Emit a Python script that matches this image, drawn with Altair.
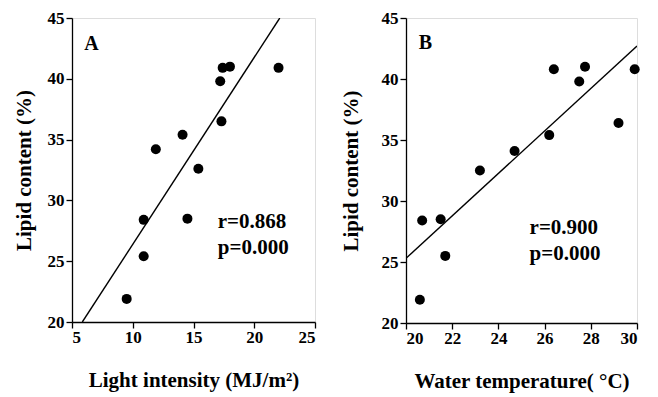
import altair as alt
import pandas as pd

# Panel A data
light = [9.5, 10.9, 10.9, 11.9, 14.1, 14.5, 15.4, 17.3, 17.2, 17.4, 18.0, 22.0]
lipid_a = [21.9, 25.4, 28.4, 34.2, 35.4, 28.5, 32.6, 36.5, 39.8, 40.9, 41.0, 40.9]
fit_a_x = [5.85, 22.1]
fit_a_y = [20.0, 45.0]

# Panel B data
temp = [20.6, 20.7, 21.5, 21.7, 23.2, 24.7, 26.2, 26.4, 27.5, 27.75, 29.2, 29.9]
lipid_b = [21.9, 28.4, 28.5, 25.5, 32.5, 34.1, 35.4, 40.8, 39.8, 41.0, 36.4, 40.8]
fit_b_x = [20.0, 30.0]
fit_b_y = [25.3, 42.7]

FONT = "Liberation Serif"

def panel(xs, ys, fx, fy, xdom, xticks, xtitle, letter, lpos, stats, spos, w, h, ytp):
    pts = pd.DataFrame({"x": xs, "y": ys})
    fit = pd.DataFrame({"x": fx, "y": fy})
    xsc = alt.Scale(domain=xdom, nice=False, zero=False)
    ysc = alt.Scale(domain=[20, 45], nice=False, zero=False)
    xax = alt.Axis(values=xticks, title=xtitle, grid=False, tickColor="black",
                   domainColor="black", labelFont=FONT, labelFontSize=17,
                   labelFontWeight="bold", labelColor="black", titleFont=FONT,
                   titleFontSize=21, titleFontWeight="bold", titleColor="black",
                   titlePadding=24, tickSize=6, labelPadding=1, domainWidth=1.3,
                   tickWidth=1.3)
    yax = alt.Axis(values=[20, 25, 30, 35, 40, 45], title="Lipid content (%)", grid=False,
                   tickColor="black", domainColor="black", labelFont=FONT,
                   labelFontSize=17, labelFontWeight="bold", labelColor="black",
                   titleFont=FONT, titleFontSize=21, titleFontWeight="bold",
                   titleColor="black", titlePadding=ytp, tickSize=6, labelPadding=2,
                   domainWidth=1.3, tickWidth=1.3)
    line = alt.Chart(fit).mark_line(color="black", strokeWidth=1.4, clip=True).encode(
        x=alt.X("x:Q", scale=xsc, axis=xax), y=alt.Y("y:Q", scale=ysc, axis=yax))
    dots = alt.Chart(pts).mark_circle(color="black", opacity=1, size=100).encode(
        x=alt.X("x:Q", scale=xsc), y=alt.Y("y:Q", scale=ysc))
    lab = pd.DataFrame({"x": [lpos[0]], "y": [lpos[1]], "t": [letter]})
    ltext = alt.Chart(lab).mark_text(font=FONT, fontSize=20, fontWeight="bold",
                                     align="left", baseline="middle", color="black").encode(
        x=alt.X("x:Q", scale=xsc), y=alt.Y("y:Q", scale=ysc), text="t:N")
    st = pd.DataFrame({"x": [spos[0], spos[0]], "y": [spos[1], spos[2]], "t": stats})
    stext = alt.Chart(st).mark_text(font=FONT, fontSize=21, fontWeight="bold",
                                    align="left", baseline="middle", color="black").encode(
        x=alt.X("x:Q", scale=xsc), y=alt.Y("y:Q", scale=ysc), text="t:N")
    return alt.layer(line, dots, ltext, stext).properties(width=w, height=h)

a = panel(light, lipid_a, fit_a_x, fit_a_y, [5, 25], [5, 10, 15, 20, 25],
          "Light intensity (MJ/m²)", "A", (6.0, 42.9), ["r=0.868", "p=0.000"],
          (17.0, 28.2, 26.1), 243, 304, 13)
b = panel(temp, lipid_b, fit_b_x, fit_b_y, [20, 30], [20, 22, 24, 26, 28, 30],
          "Water temperature( °C)", "B", (20.55, 42.95), ["r=0.900", "p=0.000"],
          (25.35, 27.8, 25.65), 231, 305, 20)

chart = alt.hconcat(a, b, spacing=22).configure_view(
    stroke="black", strokeWidth=1.3).configure(
    background="white", padding={"left": 4, "top": 0, "right": 5, "bottom": 5})

chart.save("out.html", embed_options={"renderer": "svg", "actions": False})
